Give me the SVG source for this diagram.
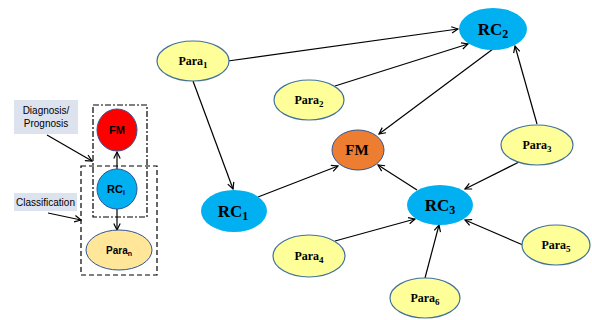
<svg xmlns="http://www.w3.org/2000/svg" width="592" height="320" viewBox="0 0 592 320">
<defs>
<style>
.para{fill:#ffff99;stroke:#41719c;stroke-width:1.2}
.rc{fill:#00b0f0}
.t{font-family:"Liberation Serif",serif;font-weight:bold;fill:#000;text-anchor:middle}
.s{font-family:"Liberation Sans",Arial,sans-serif;fill:#000;text-anchor:middle}
.e{stroke:#000;stroke-width:1.2;fill:none;marker-end:url(#a)}
.lbl{fill:#dde3ee}
</style>
<marker id="a" viewBox="0 0 10 10" refX="9" refY="5" markerWidth="8" markerHeight="8" orient="auto" markerUnits="userSpaceOnUse">
<path d="M1,1 L9,5 L1,9" fill="none" stroke="#000" stroke-width="1.5"/>
</marker>
</defs>
<rect width="592" height="320" fill="#fff"/>

<g id="legend">
<rect class="lbl" x="14" y="100" width="64" height="34"/>
<text class="s" x="46" y="114" font-size="10">Diagnosis/</text>
<text class="s" x="46" y="127" font-size="10">Prognosis</text>
<rect class="lbl" x="14" y="193" width="63" height="18"/>
<text class="s" x="45.5" y="206" font-size="10">Classification</text>
<rect x="93" y="105" width="54" height="112" fill="none" stroke="#000" stroke-width="1.2" stroke-dasharray="6,2,2,2"/>
<rect x="81" y="166" width="76" height="109" fill="none" stroke="#000" stroke-width="1.2" stroke-dasharray="5,3"/>
<line class="e" x1="47" y1="135" x2="92" y2="161"/>
<line class="e" x1="48" y1="213" x2="81" y2="220"/>
<line class="e" x1="117" y1="169" x2="117" y2="152"/>
<line class="e" x1="117" y1="209" x2="117" y2="230"/>
<g id="leg-fm"><ellipse cx="117" cy="130" rx="20" ry="21" fill="#ff0000" stroke="#2f5597" stroke-width="1"/>
<text class="s" x="117" y="134" font-size="11" font-weight="bold">FM</text></g>
<g id="leg-rci"><ellipse cx="117" cy="189" rx="20" ry="20" fill="#00b0f0" stroke="#2f5597" stroke-width="1"/>
<text class="s" x="116" y="193" font-size="11" font-weight="bold">RC<tspan font-size="7" dy="2">i</tspan></text></g>
<g id="leg-para"><ellipse cx="119" cy="250" rx="33" ry="20" fill="#ffe699" stroke="#2f5597" stroke-width="1"/>
<text class="s" x="119" y="254" font-size="10" font-weight="bold">Para<tspan font-size="7" dy="2">n</tspan></text></g>
</g>

<g id="connectors">
<line class="e" x1="228" y1="61" x2="458" y2="29"/>
<line class="e" x1="335" y1="86" x2="468" y2="44"/>
<line class="e" x1="493" y1="49" x2="379" y2="134"/>
<line class="e" x1="537" y1="124" x2="515" y2="46"/>
<line class="e" x1="519" y1="162" x2="465" y2="189"/>
<line class="e" x1="417" y1="190" x2="378" y2="165"/>
<line class="e" x1="193" y1="81" x2="233" y2="189"/>
<line class="e" x1="258" y1="197" x2="338" y2="166"/>
<line class="e" x1="335" y1="241" x2="415" y2="219"/>
<line class="e" x1="523" y1="245" x2="465" y2="220"/>
<line class="e" x1="425" y1="278" x2="439" y2="225"/>
</g>

<g id="FM"><ellipse cx="358" cy="150" rx="26" ry="20" fill="#ed7d31" stroke="#2f5597" stroke-width="1"/>
<text class="t" x="357" y="155" font-size="15">FM</text></g>
<g id="RC1"><ellipse class="rc" cx="234" cy="211" rx="33" ry="21"/>
<text class="t" x="233" y="217" font-size="17">RC<tspan font-size="12" dy="3">1</tspan></text></g>
<g id="RC2"><ellipse class="rc" cx="493" cy="29" rx="34" ry="21"/>
<text class="t" x="493" y="35" font-size="17">RC<tspan font-size="12" dy="3">2</tspan></text></g>
<g id="RC3"><ellipse class="rc" cx="440" cy="205" rx="33" ry="20"/>
<text class="t" x="440" y="211" font-size="17">RC<tspan font-size="12" dy="3">3</tspan></text></g>
<g id="Para1"><ellipse class="para" cx="193" cy="61" rx="36" ry="20"/>
<text class="t" x="193" y="65" font-size="12">Para<tspan font-size="9" dy="3">1</tspan></text></g>
<g id="Para2"><ellipse class="para" cx="309" cy="100" rx="35" ry="20"/>
<text class="t" x="309" y="104" font-size="12">Para<tspan font-size="9" dy="3">2</tspan></text></g>
<g id="Para3"><ellipse class="para" cx="537" cy="145" rx="36" ry="20"/>
<text class="t" x="537" y="149" font-size="12">Para<tspan font-size="9" dy="3">3</tspan></text></g>
<g id="Para4"><ellipse class="para" cx="309" cy="256" rx="36" ry="21"/>
<text class="t" x="309" y="260" font-size="12">Para<tspan font-size="9" dy="3">4</tspan></text></g>
<g id="Para5"><ellipse class="para" cx="556" cy="245" rx="34" ry="20"/>
<text class="t" x="556" y="249" font-size="12">Para<tspan font-size="9" dy="3">5</tspan></text></g>
<g id="Para6"><ellipse class="para" cx="425" cy="298" rx="35" ry="20"/>
<text class="t" x="425" y="302" font-size="12">Para<tspan font-size="9" dy="3">6</tspan></text></g>
</svg>
